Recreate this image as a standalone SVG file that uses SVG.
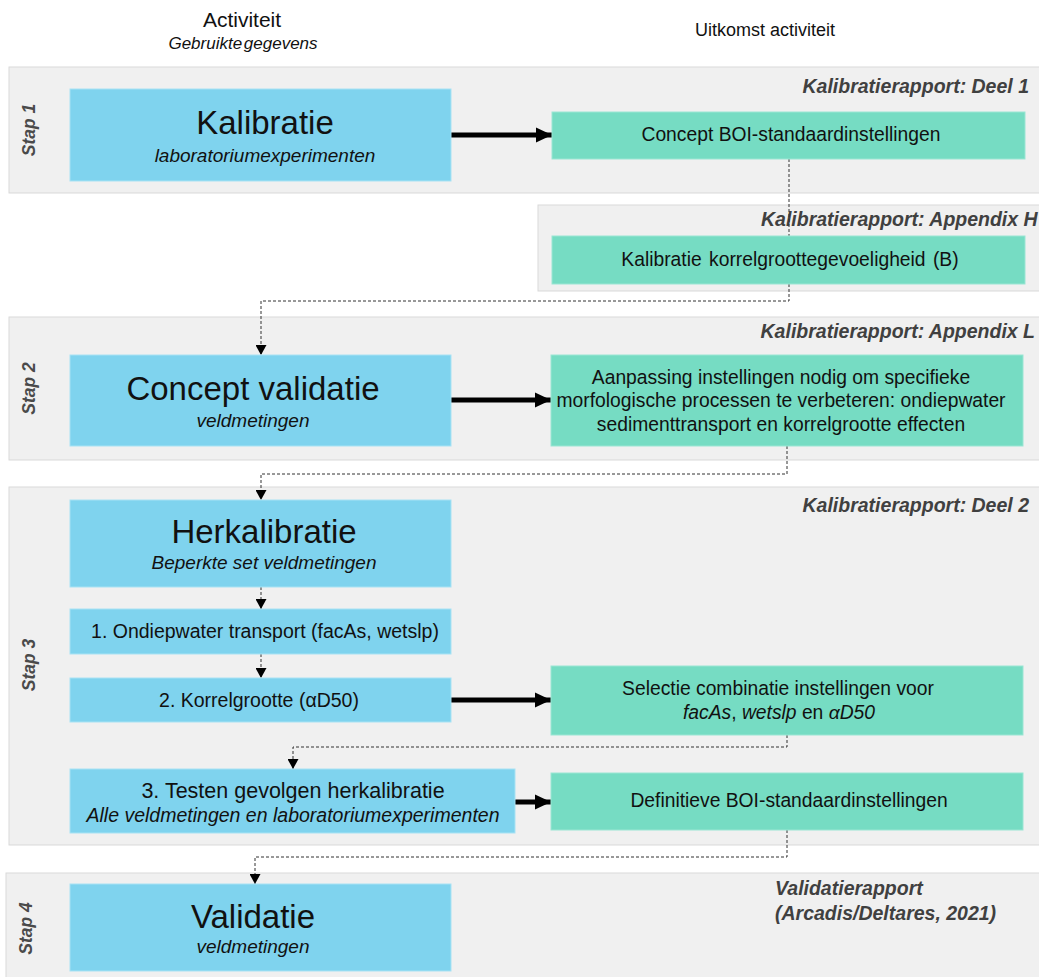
<svg xmlns="http://www.w3.org/2000/svg" width="1039" height="977" viewBox="0 0 1039 977">
<style>
text{font-family:"Liberation Sans",Arial,sans-serif;fill:#111}
.band{fill:#f0f0f0;stroke:#d9d9d9;stroke-width:1}
.blue{fill:#7fd3ee;stroke:#a8e2f4;stroke-width:1}
.green{fill:#76dcc3;stroke:#9ae6d3;stroke-width:1}
.title{font-size:33px;text-anchor:middle}
.sub{font-size:19px;font-style:italic;text-anchor:middle}
.body{font-size:19.3px;text-anchor:middle}
.rep{font-size:19.5px;font-style:italic;font-weight:bold;fill:#404040}
.stap{font-size:17.5px;font-style:italic;font-weight:bold;fill:#4a4a4a;text-anchor:middle}
.thick{stroke:#000;stroke-width:5;fill:none}
.dash{stroke:#333;stroke-width:1;stroke-dasharray:3 2;fill:none}
</style>
<defs>
<marker id="big" markerUnits="userSpaceOnUse" markerWidth="16" markerHeight="16" refX="16" refY="8" orient="auto"><path d="M0,0.5 L16,8 L0,15.5 z" fill="#000"/></marker>
<marker id="small" markerUnits="userSpaceOnUse" markerWidth="10" markerHeight="11" refX="10" refY="5.5" orient="auto"><path d="M0,0 L10,5.5 L0,11 z" fill="#000"/></marker>
</defs>
<rect width="1039" height="977" fill="#fff"/>
<g id="headers">
<text x="242" y="27" style="font-size:21px;text-anchor:middle">Activiteit</text>
<text x="243" y="49" style="font-size:17px;font-style:italic;text-anchor:middle;word-spacing:-3px">Gebruikte gegevens</text>
<text x="765" y="36" style="font-size:18px;text-anchor:middle">Uitkomst activiteit</text>
</g>
<g id="band-stap1">
<rect class="band" x="9" y="67" width="1040" height="126"/>
<text class="stap" transform="translate(35,130) rotate(-90)">Stap 1</text>
<text class="rep" x="1029" y="93" text-anchor="end">Kalibratierapport: Deel 1</text>
</g>
<g id="band-appH">
<rect class="band" x="538" y="205" width="510" height="86"/>
<text class="rep" x="761" y="226">Kalibratierapport: Appendix H</text>
</g>
<g id="band-stap2">
<rect class="band" x="9" y="317" width="1040" height="143"/>
<text class="stap" transform="translate(35,388.5) rotate(-90)">Stap 2</text>
<text class="rep" x="1035" y="338" text-anchor="end">Kalibratierapport: Appendix L</text>
</g>
<g id="band-stap3">
<rect class="band" x="9" y="487" width="1040" height="358"/>
<text class="stap" transform="translate(35,665) rotate(-90)">Stap 3</text>
<text class="rep" x="1029" y="512" text-anchor="end">Kalibratierapport: Deel 2</text>
</g>
<g id="band-stap4">
<rect class="band" x="6" y="873" width="1043" height="110"/>
<text class="stap" transform="translate(32,928.5) rotate(-90)">Stap 4</text>
<text class="rep" x="775" y="895">Validatierapport</text>
<text class="rep" x="775" y="920">(Arcadis/Deltares, 2021)</text>
</g>
<g id="connectors">
<path class="thick" d="M451,135 H552" marker-end="url(#big)"/>
<path class="thick" d="M451,400 H551" marker-end="url(#big)"/>
<path class="thick" d="M451,700 H551" marker-end="url(#big)"/>
<path class="thick" d="M515,802 H551" marker-end="url(#big)"/>
<path class="dash" d="M789,159 V301 H261 V355" marker-end="url(#small)"/>
<path class="dash" d="M787,446 V474 H261 V500" marker-end="url(#small)"/>
<path class="dash" d="M261,587 V609" marker-end="url(#small)"/>
<path class="dash" d="M261,654 V678" marker-end="url(#small)"/>
<path class="dash" d="M787,735 V747 H293 V769" marker-end="url(#small)"/>
<path class="dash" d="M787,830 V857 H255 V884" marker-end="url(#small)"/>
</g>
<g id="kalibratie">
<rect class="blue" x="70" y="89" width="381" height="92"/>
<text class="title" x="265" y="134">Kalibratie</text>
<text class="sub" x="265" y="162">laboratoriumexperimenten</text>
</g>
<g id="concept-boi">
<rect class="green" x="552" y="112" width="473" height="47"/>
<text class="body" x="791" y="141">Concept BOI-standaardinstellingen</text>
</g>
<g id="kal-korrel">
<rect class="green" x="552" y="236" width="473" height="48"/>
<text class="body" x="790" y="266" style="word-spacing:2px">Kalibratie korrelgroottegevoeligheid (B)</text>
</g>
<g id="concept-validatie">
<rect class="blue" x="70" y="355" width="381" height="91"/>
<text class="title" x="253" y="400">Concept validatie</text>
<text class="sub" x="253" y="427">veldmetingen</text>
</g>
<g id="aanpassing">
<rect class="green" x="551" y="355" width="472" height="91"/>
<text class="body" x="781" y="384">Aanpassing instellingen nodig om specifieke</text>
<text class="body" x="781" y="407">morfologische processen te verbeteren: ondiepwater</text>
<text class="body" x="781" y="431">sedimenttransport en korrelgrootte effecten</text>
</g>
<g id="herkalibratie">
<rect class="blue" x="70" y="500" width="381" height="87"/>
<text class="title" x="264" y="543">Herkalibratie</text>
<text class="sub" x="264" y="569">Beperkte set veldmetingen</text>
</g>
<g id="ondiepwater">
<rect class="blue" x="70" y="609" width="381" height="45"/>
<text class="body" x="265" y="638" style="font-size:19.5px">1. Ondiepwater transport (facAs, wetslp)</text>
</g>
<g id="korrelgrootte">
<rect class="blue" x="70" y="678" width="381" height="44"/>
<text class="body" x="259" y="707" style="font-size:19.5px">2. Korrelgrootte (αD50)</text>
</g>
<g id="selectie">
<rect class="green" x="551" y="666" width="472" height="69"/>
<text class="body" x="778" y="695">Selectie combinatie instellingen voor</text>
<text class="body" x="779" y="719"><tspan font-style="italic">facAs</tspan>, <tspan font-style="italic">wetslp</tspan> en <tspan font-style="italic">αD50</tspan></text>
</g>
<g id="testen">
<rect class="blue" x="70" y="769" width="445" height="64"/>
<text class="body" x="293" y="798" style="font-size:21.5px">3. Testen gevolgen herkalibratie</text>
<text class="sub" x="293" y="822" style="font-size:19.5px">Alle veldmetingen en laboratoriumexperimenten</text>
</g>
<g id="definitieve">
<rect class="green" x="551" y="773" width="472" height="57"/>
<text class="body" x="789" y="807">Definitieve BOI-standaardinstellingen</text>
</g>
<g id="validatie">
<rect class="blue" x="70" y="884" width="381" height="87"/>
<text class="title" x="253" y="928">Validatie</text>
<text class="sub" x="253" y="953">veldmetingen</text>
</g>
</svg>
